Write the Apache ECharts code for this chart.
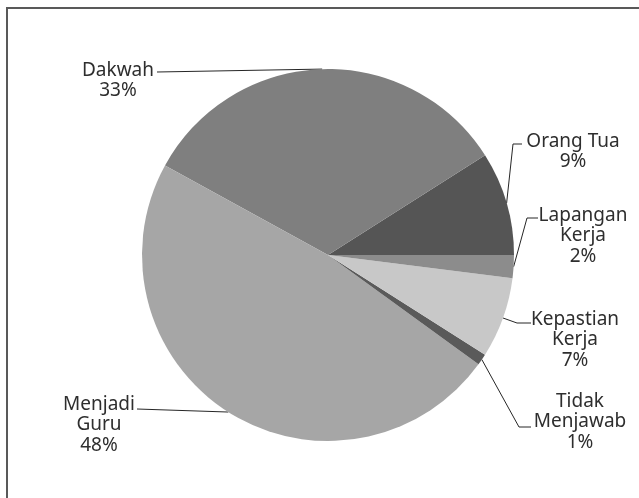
<!DOCTYPE html>
<html>
<head>
<meta charset="utf-8">
<script src="https://cdn.jsdelivr.net/npm/echarts@6/dist/echarts.min.js"></script>
<style>
  html, body { margin: 0; padding: 0; background: #fff; }
  #chart { width: 639px; height: 498px; }
</style>
</head>
<body>
<div id="chart"></div>
<script>
// data, counter-clockwise from 3 o'clock
const categories = ['Orang Tua', 'Dakwah', 'Menjadi Guru', 'Tidak Menjawab', 'Kepastian Kerja', 'Lapangan Kerja'];
const labelNames = ['Orang Tua', 'Dakwah', 'Menjadi\nGuru', 'Tidak\nMenjawab', 'Kepastian\nKerja', 'Lapangan\nKerja'];
const values = [9, 33, 48, 1, 7, 2];
const sliceColors = ['#555555', '#7f7f7f', '#a6a6a6', '#5a5a5a', '#c8c8c8', '#8c8c8c'];

// label placement: text centre x, block top y, leader attach point, bend offset
const labelPlace = [
  {x: 573, y: 131, ax: 522, ay: 144, bend: 9},
  {x: 118, y: 60, ax: 157, ay: 72, bend: 0},
  {x: 99, y: 394, ax: 137, ay: 409, bend: 0},
  {x: 580, y: 391, ax: 531, ay: 427, bend: 12},
  {x: 575, y: 309, ax: 531, ay: 323, bend: 14},
  {x: 583, y: 205, ax: 538, ay: 218, bend: 11}
];

const chart = echarts.init(document.getElementById('chart'));

const option = {
  animation: false,
  backgroundColor: '#fff',
  graphic: [{
    type: 'rect',
    shape: {x: 7, y: 8, width: 640, height: 500},
    style: {fill: 'none', stroke: '#595959', lineWidth: 2},
    silent: true
  }],
  series: [{
    type: 'pie',
    center: [328, 255],
    radius: 186,
    startAngle: 0,
    clockwise: false,
    percentPrecision: 0,
    data: categories.map((c, i) => ({
      name: c,
      value: values[i],
      itemStyle: {color: sliceColors[i]}
    })),
    itemStyle: {borderWidth: 0},
    label: {
      show: true,
      formatter: p => labelNames[p.dataIndex] + '\n' + p.percent + '%',
      fontFamily: 'Noto Sans',
      fontSize: 19,
      lineHeight: 20.5,
      color: '#2e2e2e',
      align: 'center'
    },
    labelLine: {
      show: true,
      length: 10,
      length2: 10,
      smooth: false,
      lineStyle: {color: '#262626', width: 1}
    },
    labelLayout: params => {
      const lp = labelPlace[params.dataIndex];
      const edge = params.labelLinePoints[0];
      const pts = lp.bend
        ? [edge, [lp.ax - lp.bend, lp.ay], [lp.ax, lp.ay]]
        : [edge, [lp.ax, lp.ay]];
      return {
        x: lp.x,
        y: lp.y,
        align: 'center',
        verticalAlign: 'top',
        labelLinePoints: pts
      };
    }
  }]
};

chart.setOption(option);
</script>
</body>
</html>
